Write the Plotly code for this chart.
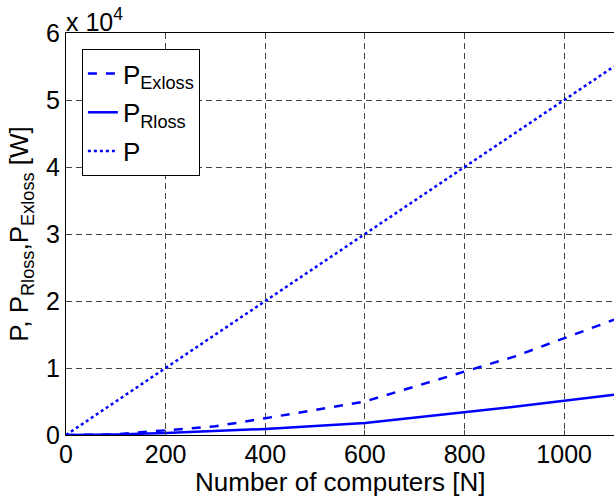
import plotly.graph_objects as go

# Data
N = [0, 100, 200, 300, 400, 600, 900, 1100]
P_exloss = [0, 100, 700, 1300, 2500, 5000, 11700, 17200]
P_rloss = [0, 80, 300, 550, 900, 1800, 4200, 6000]
P_total = [0, 5000, 10000, 15000, 20000, 30000, 45000, 55000]

x_ticks = [0, 200, 400, 600, 800, 1000]
y_ticks = [0, 10000, 20000, 30000, 40000, 50000, 60000]
y_ticktext = ["0", "1", "2", "3", "4", "5", "6"]

FONT = "Liberation Sans, Arial, Helvetica, sans-serif"
BLUE = "#0000ff"
FS = 26
TFS = 25

fig = go.Figure()
fig.add_trace(go.Scatter(x=N, y=P_exloss, mode="lines", name="P<sub>Exloss</sub>",
                         legendgroup="a",
                         line=dict(color=BLUE, width=2.5, dash="dash")))
fig.add_trace(go.Scatter(x=N, y=P_rloss, mode="lines", name="P<sub>Rloss</sub>",
                         legendgroup="b",
                         line=dict(color=BLUE, width=2.5)))
fig.add_trace(go.Scatter(x=N, y=P_total, mode="lines", name="P",
                         legendgroup="c",
                         line=dict(color=BLUE, width=2.5, dash="dot")))

fig.update_layout(
    width=614, height=497,
    margin=dict(l=66, r=0, t=33, b=62),
    paper_bgcolor="white", plot_bgcolor="white",
    font=dict(family=FONT, size=FS, color="black"),
    showlegend=True,
    legend=dict(x=0.029, y=0.96, xanchor="left", yanchor="top",
                bordercolor="black", borderwidth=1, bgcolor="white",
                font=dict(size=FS), itemwidth=30, tracegroupgap=2),
    annotations=[
        dict(text="x 10<sup>4</sup>", xref="paper", yref="paper",
             x=0, y=1, xanchor="left", yanchor="bottom",
             showarrow=False, font=dict(size=TFS), yshift=-5, xshift=-2),
        dict(text="Number of computers [N]", xref="paper", yref="paper",
             x=0.5, y=-0.078, xanchor="center", yanchor="top",
             showarrow=False, font=dict(size=FS), borderpad=0),
    ],
)
fig.update_xaxes(
    range=[0, 1100], tickvals=x_ticks, ticks="inside", ticklen=5,
    ticklabelstandoff=-3,
    showline=True, linecolor="black", linewidth=1, mirror="ticks",
    showgrid=True, gridcolor="#444", griddash="6px,4px", gridwidth=1,
    zeroline=False, tickfont=dict(size=TFS),
)
fig.update_yaxes(
    range=[0, 60000], tickvals=y_ticks, ticktext=y_ticktext,
    ticks="inside", ticklen=5,
    showline=True, linecolor="black", linewidth=1,
    showgrid=True, gridcolor="#444", griddash="6px,4px", gridwidth=1,
    zeroline=False, tickfont=dict(size=TFS),
    title=dict(text="P, P<sub>Rloss</sub>,P<sub>Exloss</sub> [W]",
               font=dict(size=FS), standoff=9),
)

fig.write_html("out.html")
